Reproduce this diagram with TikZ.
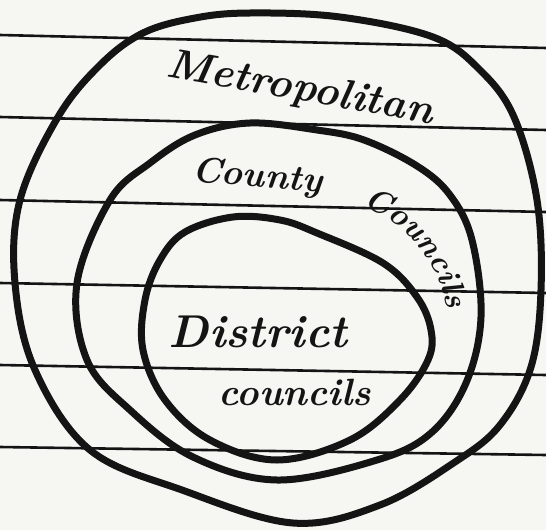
\documentclass[tikz,border=0pt]{standalone}
\usetikzlibrary{calc,decorations.text}
\definecolor{paper}{HTML}{F6F6F3}
\definecolor{ink}{HTML}{141414}
\tikzset{
  rule/.style={draw=ink, line width=2.6pt},
  ring/.style={draw=ink, line width=7pt, line join=round},
  hand/.style={text=ink, font=\bfseries\itshape, inner sep=0pt}
}
\begin{document}
\begin{tikzpicture}[x=1pt,y=-1pt]
  \fill[paper] (0,0) rectangle (546,530);
  \useasboundingbox (0,0) rectangle (546,530);
  % ruled lines of the paper
  \coordinate (l1a) at (0,35);  \coordinate (l1b) at (546,48);
  \coordinate (l2a) at (0,117); \coordinate (l2b) at (546,130);
  \coordinate (l3a) at (0,200); \coordinate (l3b) at (546,212);
  \coordinate (l4a) at (0,283); \coordinate (l4b) at (546,293);
  \coordinate (l5a) at (0,365); \coordinate (l5b) at (546,375);
  \coordinate (l6a) at (0,447); \coordinate (l6b) at (546,455);
  \foreach \i in {1,...,6} { \draw[rule] (l\i a) -- (l\i b); }
  % outer ring: Metropolitan
  \draw[ring] plot[smooth cycle, tension=0.6] coordinates {
    (250,13) (340,17) (433,37) (480,70) (514,117) (537,200) (541,290)
    (531,367) (500,425) (455,462) (380,505) (293,523) (182,490) (90,450)
    (35,370) (15,283) (20,200) (58,117) (100,65) (143,33) (195,18)};
  % middle ring: County Councils
  \draw[ring] plot[smooth cycle, tension=0.6] coordinates {
    (250,123) (317,130) (364,140) (417,166) (450,195) (472,240) (481,317)
    (466,383) (431,433) (377,460) (277,480) (193,457) (130,410) (87,360)
    (77,283) (110,200) (150,163) (195,135)};
  % inner ring: District councils
  \draw[ring] plot[smooth cycle, tension=0.6] coordinates {
    (233,217) (280,220) (317,233) (383,263) (417,297) (431,330) (428,360)
    (400,400) (350,440) (277,460) (210,440) (165,400) (143,350) (145,300)
    (160,260) (185,232)};
  % labels
  \node[hand, font=\fontsize{42}{46}\selectfont\bfseries\itshape, rotate=-10] (metro) at (300,90) {Metropolitan};
  \node[hand, font=\fontsize{36}{40}\selectfont\bfseries\itshape, rotate=-5] (county) at (257,178) {County};
  \coordinate (cs) at (340,200);
  \coordinate (ce) at (452,332);
  \path[decorate, decoration={text along path, text align=center,
      text color=ink,
      text={|\fontsize{32}{35}\selectfont\bfseries\itshape|Councils}}]
    (cs) .. controls (396,212) and (442,252) .. (ce);
  \node[hand, font=\fontsize{46}{50}\selectfont\bfseries\itshape] (district) at (258,332) {District};
  \node[hand, font=\fontsize{38}{42}\selectfont\bfseries\itshape] (dcouncils) at (295,392) {councils};
\end{tikzpicture}
\end{document}
